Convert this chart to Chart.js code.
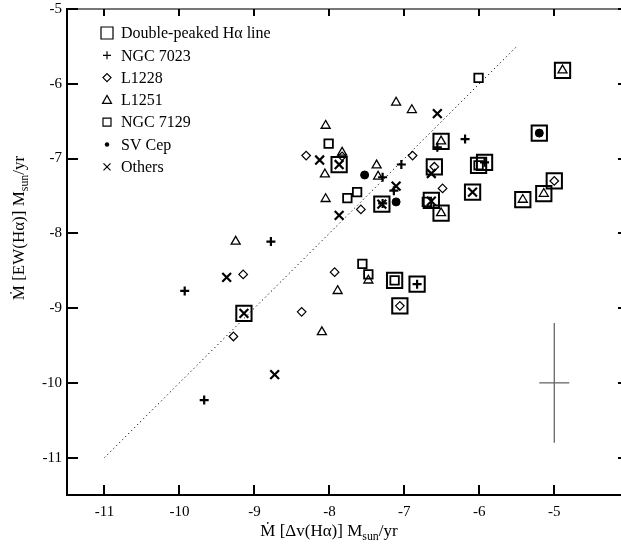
<!DOCTYPE html>
<html>
<head>
<meta charset="utf-8">
<script src="https://cdn.jsdelivr.net/npm/chart.js@4.4.0/dist/chart.umd.min.js"></script>
<style>
  html, body { margin: 0; padding: 0; background: #fff; overflow: hidden; }
</style>
</head>
<body>
<canvas id="chart" width="621" height="546"></canvas>
<script>
// mass accretion rates, log Msun/yr: [dv(Ha), EW(Ha)]
const doublePeaked = [
  [-4.89, -5.82], [-5.20, -6.66], [-6.51, -6.77], [-7.87, -7.08], [-6.60, -7.11],
  [-5.93, -7.05], [-6.01, -7.09], [-6.09, -7.45], [-5.00, -7.30], [-5.14, -7.47],
  [-5.42, -7.55], [-7.30, -7.61], [-6.64, -7.56], [-6.51, -7.73], [-7.13, -8.63],
  [-6.83, -8.68], [-7.06, -8.97], [-9.14, -9.07]
];
const ngc7023 = [
  [-6.19, -6.74], [-6.56, -6.85], [-7.04, -7.08], [-7.29, -7.25], [-7.14, -7.43],
  [-7.29, -7.60], [-5.93, -7.05], [-6.83, -8.68], [-8.78, -8.11], [-9.93, -8.77],
  [-9.67, -10.23]
];
const l1228 = [
  [-8.31, -6.96], [-7.83, -6.97], [-6.89, -6.96], [-6.60, -7.11], [-6.49, -7.40],
  [-7.58, -7.68], [-5.00, -7.30], [-7.93, -8.52], [-9.15, -8.55], [-8.37, -9.05],
  [-9.28, -9.38], [-7.06, -8.97]
];
const l1251 = [
  [-4.89, -5.82], [-7.11, -6.25], [-6.90, -6.35], [-8.05, -6.56], [-6.51, -6.77],
  [-7.83, -6.92], [-7.37, -7.09], [-8.06, -7.21], [-7.35, -7.24], [-5.14, -7.47],
  [-5.42, -7.55], [-8.05, -7.54], [-6.51, -7.73], [-9.25, -8.11], [-7.48, -8.63],
  [-7.89, -8.77], [-8.10, -9.32]
];
const ngc7129 = [
  [-6.01, -5.92], [-8.01, -6.80], [-7.63, -7.45], [-7.76, -7.53], [-6.70, -7.58],
  [-6.01, -7.09], [-7.56, -8.41], [-7.48, -8.55], [-7.13, -8.63]
];
const svCep = [[-7.53, -7.22], [-7.11, -7.58], [-5.20, -6.66]];
const others = [
  [-6.56, -6.40], [-8.13, -7.02], [-7.87, -7.08], [-6.64, -7.20], [-7.11, -7.37],
  [-6.09, -7.45], [-7.30, -7.61], [-6.64, -7.57], [-7.87, -7.76], [-9.37, -8.59],
  [-9.14, -9.07], [-8.73, -9.89]
];
// one-to-one line and typical error bar
const equalityLine = [-11, -5.5];
const errCenter = [-5, -10];
const errSize = [0.2, 0.8];
const xTicks = [-11, -10, -9, -8, -7, -6, -5];
const yTicks = [-11, -10, -9, -8, -7, -6, -5];

const legendItems = [
  ['box', 'Double-peaked H\u03b1 line'],
  ['plus', 'NGC 7023'],
  ['diamond', 'L1228'],
  ['triangle', 'L1251'],
  ['square', 'NGC 7129'],
  ['dot', 'SV Cep'],
  ['x', 'Others']
];

const FONT = '"Liberation Serif", "Times New Roman", serif';
const toXY = arr => arr.map(p => ({ x: p[0], y: p[1] }));

function markers(data, style, radius, width, fill) {
  return {
    type: 'scatter',
    data: toXY(data),
    pointStyle: style,
    pointRadius: radius,
    pointHoverRadius: radius,
    pointBorderWidth: width,
    borderColor: '#000',
    pointBorderColor: '#000',
    pointBackgroundColor: fill || 'rgba(0,0,0,0)',
    backgroundColor: fill || 'rgba(0,0,0,0)'
  };
}

function lineSet(points, color, width, dash) {
  return {
    type: 'line',
    data: toXY(points),
    borderColor: color,
    borderWidth: width,
    borderDash: dash || [],
    pointRadius: 0,
    fill: false,
    tension: 0
  };
}

// legend symbols, drawn by hand
function legendSymbol(ctx, kind, x, y) {
  ctx.beginPath();
  ctx.lineWidth = 1.2;
  ctx.strokeStyle = '#000';
  ctx.fillStyle = '#000';
  if (kind === 'box') ctx.rect(x - 6, y - 6, 12, 12);
  if (kind === 'square') ctx.rect(x - 4, y - 4, 8, 8);
  if (kind === 'plus') { ctx.moveTo(x - 4, y); ctx.lineTo(x + 4, y); ctx.moveTo(x, y - 4); ctx.lineTo(x, y + 4); }
  if (kind === 'x') { ctx.moveTo(x - 3.5, y - 3.5); ctx.lineTo(x + 3.5, y + 3.5); ctx.moveTo(x + 3.5, y - 3.5); ctx.lineTo(x - 3.5, y + 3.5); }
  if (kind === 'diamond') { ctx.moveTo(x, y - 4); ctx.lineTo(x + 4, y); ctx.lineTo(x, y + 4); ctx.lineTo(x - 4, y); ctx.closePath(); }
  if (kind === 'triangle') { ctx.moveTo(x, y - 4.5); ctx.lineTo(x + 4.5, y + 3.5); ctx.lineTo(x - 4.5, y + 3.5); ctx.closePath(); }
  if (kind === 'dot') { ctx.arc(x, y, 2.2, 0, Math.PI * 2); ctx.fill(); return; }
  ctx.stroke();
}

// text with a subscript part: [normal, sub, normal]
function titleParts(ctx, parts, size) {
  let w = 0;
  parts.forEach((p, i) => {
    ctx.font = (i === 1 ? size * 0.7 : size) + 'px ' + FONT;
    w += ctx.measureText(p).width;
  });
  return w;
}
function drawParts(ctx, parts, x, y, size) {
  parts.forEach((p, i) => {
    const sub = i === 1;
    ctx.font = (sub ? size * 0.7 : size) + 'px ' + FONT;
    ctx.fillText(p, x, sub ? y + size * 0.22 : y);
    x += ctx.measureText(p).width;
  });
}

const decorations = {
  id: 'decorations',
  afterDraw(chart) {
    const { ctx, chartArea: a, scales } = chart;
    const xs = scales.x, ys = scales.y;
    ctx.save();
    // top frame line
    ctx.strokeStyle = '#777';
    ctx.lineWidth = 2;
    ctx.beginPath();
    ctx.moveTo(a.left, a.top);
    ctx.lineTo(a.right, a.top);
    ctx.stroke();
    // inward tick marks
    ctx.strokeStyle = '#000';
    ctx.lineWidth = 2;
    ctx.beginPath();
    xs.ticks.forEach(t => {
      const px = Math.round(xs.getPixelForValue(t.value));
      ctx.moveTo(px, a.bottom); ctx.lineTo(px, a.bottom - 10);
      ctx.moveTo(px, a.top); ctx.lineTo(px, a.top + 7);
    });
    ys.ticks.forEach(t => {
      const py = Math.round(ys.getPixelForValue(t.value));
      ctx.moveTo(a.left, py); ctx.lineTo(a.left + 11, py);
      ctx.moveTo(a.right, py); ctx.lineTo(a.right - 3, py);
    });
    ctx.stroke();

    // legend
    ctx.textBaseline = 'middle';
    ctx.textAlign = 'left';
    legendItems.forEach((item, i) => {
      const y = a.top + 24 + i * 22.3;
      legendSymbol(ctx, item[0], a.left + 40, y);
      ctx.fillStyle = '#000';
      ctx.font = '16px ' + FONT;
      ctx.fillText(item[1], a.left + 54, y + 1);
    });

    // axis titles
    ctx.fillStyle = '#000';
    ctx.textBaseline = 'alphabetic';
    const xParts = ['\u1e40 [\u0394v(H\u03b1)] M', 'sun', '/yr'];
    const xw = titleParts(ctx, xParts, 17);
    drawParts(ctx, xParts, 329 - xw / 2, 536, 17);

    const yParts = ['\u1e40 [EW(H\u03b1)] M', 'sun', '/yr'];
    const yw = titleParts(ctx, yParts, 17);
    ctx.translate(24, 228);
    ctx.rotate(-Math.PI / 2);
    drawParts(ctx, yParts, -yw / 2, 0, 17);
    ctx.restore();
  }
};

const datasets = [
  lineSet([[equalityLine[0], equalityLine[0]], [equalityLine[1], equalityLine[1]]], '#000', 1, [1.2, 3]),
  lineSet([[errCenter[0] - errSize[0], errCenter[1]], [errCenter[0] + errSize[0], errCenter[1]]], '#666', 1.3),
  lineSet([[errCenter[0], errCenter[1] + errSize[1]], [errCenter[0], errCenter[1] - errSize[1]]], '#666', 1.3),
  markers(doublePeaked, 'rect', 10.8, 2),
  markers(ngc7129, 'rect', 6, 1.8),
  markers(l1251, 'triangle', 5.2, 1.3),
  markers(l1228, 'rectRot', 4.3, 1.2),
  markers(ngc7023, 'cross', 4.5, 2.2),
  markers(others, 'crossRot', 6.2, 2.2),
  markers(svCep, 'circle', 4, 1, '#000')
];

new Chart(document.getElementById('chart'), {
  type: 'scatter',
  data: { datasets: datasets },
  plugins: [decorations],
  options: {
    responsive: false,
    animation: false,
    devicePixelRatio: 1,
    events: [],
    layout: { autoPadding: false, padding: { top: 9, right: 0, left: 0, bottom: 0 } },
    plugins: { legend: { display: false }, tooltip: { enabled: false } },
    scales: {
      x: {
        type: 'linear',
        min: -11.5,
        max: -4.11,
        afterFit: s => { s.height = 51; s.paddingLeft = 0; s.paddingRight = 0; },
        afterBuildTicks: s => { s.ticks = xTicks.map(v => ({ value: v })); },
        border: { color: '#000', width: 2 },
        grid: { drawOnChartArea: false, drawTicks: false },
        ticks: { padding: 8, color: '#000', font: { family: FONT, size: 15 }, callback: v => String(v) }
      },
      y: {
        type: 'linear',
        min: -11.5,
        max: -5,
        afterFit: s => { s.width = 67; s.paddingTop = 0; s.paddingBottom = 0; },
        afterBuildTicks: s => { s.ticks = yTicks.map(v => ({ value: v })); },
        border: { color: '#000', width: 2 },
        grid: { drawOnChartArea: false, drawTicks: false },
        ticks: { padding: 5, color: '#000', font: { family: FONT, size: 15 }, callback: v => String(v) }
      }
    }
  }
});
</script>
</body>
</html>
